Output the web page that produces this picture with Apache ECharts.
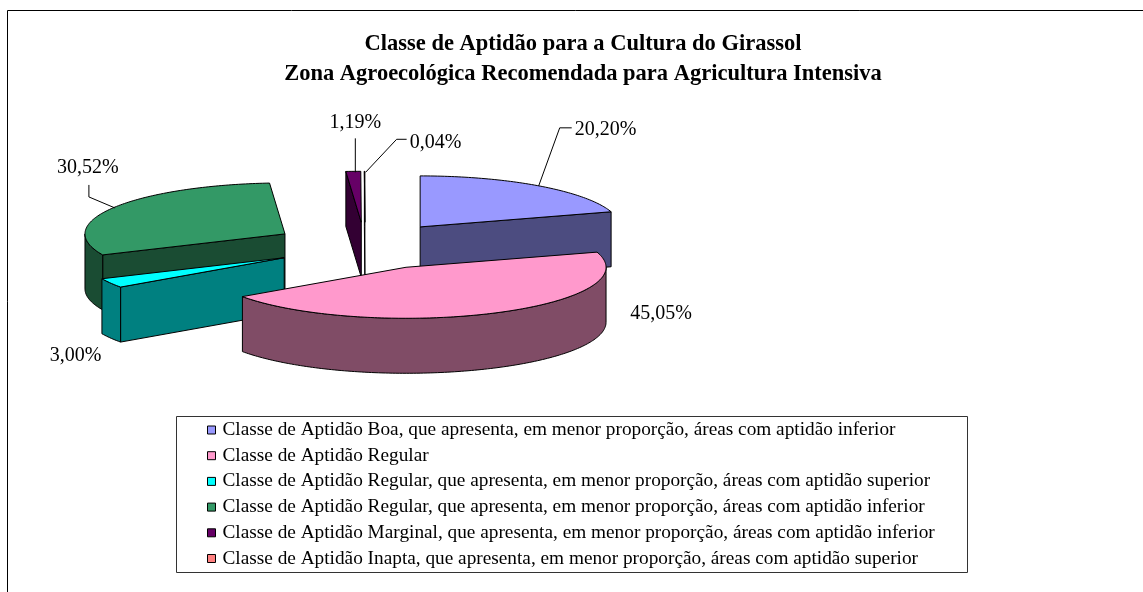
<!DOCTYPE html>
<html>
<head>
<meta charset="utf-8">
<title>Classe de Aptidão - Girassol</title>
<script src="https://cdn.jsdelivr.net/npm/echarts@6/dist/echarts.min.js"></script>
<style>
  html, body { margin: 0; padding: 0; background: #fff; }
  #chart { width: 1143px; height: 592px; }
</style>
</head>
<body>
<div id="chart"></div>
<script>
// dados
var categories = [
    'Classe de Aptidão Boa, que apresenta, em menor proporção, áreas com aptidão inferior',
    'Classe de Aptidão Regular',
    'Classe de Aptidão Regular, que apresenta, em menor proporção, áreas com aptidão superior',
    'Classe de Aptidão Regular, que apresenta, em menor proporção, áreas com aptidão inferior',
    'Classe de Aptidão Marginal, que apresenta, em menor proporção, áreas com aptidão inferior',
    'Classe de Aptidão Inapta, que apresenta, em menor proporção, áreas com aptidão superior'
];
var percentages = [20.20, 45.05, 3.00, 30.52, 1.19, 0.04];
var topColors = ['#9999FF', '#FF99CC', '#00FFFF', '#339966', '#660066', '#FF8080'];
var sideColors = ['#4C4C80', '#804C66', '#008080', '#1A4C33', '#330033', '#804040'];

// posição dos rótulos em relação ao ponto médio do arco de cada fatia
var labelLayout = [
    { leader: [[0, 0], [21, -58], [33, -58]], text: [36, -56], align: 'left' },
    { leader: null, text: [136, 1], align: 'left' },
    { leader: null, text: [-35, 73], align: 'center' },
    { leader: [[2, 0], [-24, -11], [-24, -23]], text: [-25, -40], align: 'center' },
    { leader: [[2, 1], [2, -33]], text: [2, -49], align: 'center' },
    { leader: [[1, 1], [32, -32], [42, -32]], text: [45, -29], align: 'left' }
];

// geometria da pizza 3D
var CX = 365, CY = 246, RX = 200, RY = 51, DEPTH = 55, EXPLODE = 93;

var total = percentages.reduce(function (a, b) { return a + b; }, 0);

function fmtPct(v) {
    return v.toFixed(2).replace('.', ',') + '%';
}

function sliceInfo(i) {
    var start = 0;
    for (var j = 0; j < i; j++) start += percentages[j];
    var a0 = start / total * Math.PI * 2;
    var a1 = (start + percentages[i]) / total * Math.PI * 2;
    var mid = (a0 + a1) / 2;
    var ox = CX + EXPLODE * Math.sin(mid);
    var oy = CY - EXPLODE * (RY / RX) * Math.cos(mid);
    return { a0: a0, a1: a1, mid: mid, ox: ox, oy: oy };
}

// ordem de desenho: do fundo para a frente
var infos = percentages.map(function (v, i) { return sliceInfo(i); });
var order = infos.map(function (s, i) { return i; }).sort(function (a, b) { return infos[a].oy - infos[b].oy; });
var rank = [];
order.forEach(function (idx, r) { rank[idx] = r; });

function pt(s, a, dy) {
    return [s.ox + RX * Math.sin(a), s.oy - RY * Math.cos(a) + (dy || 0)];
}

function arc(s, from, to, dy) {
    var pts = [];
    var n = Math.max(1, Math.ceil((to - from) / (Math.PI / 180)));
    for (var k = 0; k <= n; k++) pts.push(pt(s, from + (to - from) * k / n, dy));
    return pts;
}

function face(points, fill, z2) {
    return {
        type: 'polygon',
        shape: { points: points },
        style: { fill: fill, stroke: '#000', lineWidth: 1, lineJoin: 'round' },
        z2: z2,
        silent: true
    };
}

function makeRender(i) {
    return function (params, api) {
        var s = infos[i];
        var base = rank[i] * 10;
        var apex = [s.ox, s.oy], apexB = [s.ox, s.oy + DEPTH];
        var children = [];

        // parede radial inicial
        if (Math.sin(s.a0) < -1e-6) {
            children.push(face([apex, pt(s, s.a0), pt(s, s.a0, DEPTH), apexB], sideColors[i], base + 1));
        }
        // parede radial final
        if (Math.sin(s.a1) > 1e-6) {
            children.push(face([apex, pt(s, s.a1), pt(s, s.a1, DEPTH), apexB], sideColors[i], base + 1));
        }
        // parede externa visível
        var f = Math.max(s.a0, Math.PI / 2), t = Math.min(s.a1, Math.PI * 1.5);
        if (t > f) {
            var topArc = arc(s, f, t, 0);
            var botArc = arc(s, f, t, DEPTH).reverse();
            children.push(face(topArc.concat(botArc), sideColors[i], base + 2));
        }
        // tampa
        children.push(face([apex].concat(arc(s, s.a0, s.a1, 0)), topColors[i], base + 5));

        // rótulo
        var m = pt(s, s.mid);
        var lay = labelLayout[i];
        if (lay.leader) {
            children.push({
                type: 'polyline',
                shape: { points: lay.leader.map(function (p) { return [m[0] + p[0], m[1] + p[1]]; }) },
                style: { stroke: '#000', lineWidth: 1, fill: null },
                z2: 100,
                silent: true
            });
        }
        children.push({
            type: 'text',
            x: m[0] + lay.text[0],
            y: m[1] + lay.text[1],
            style: {
                text: fmtPct(percentages[i]),
                fill: '#000',
                font: '20px "Liberation Serif"',
                align: lay.align,
                verticalAlign: 'middle'
            },
            z2: 101,
            silent: true
        });
        return { type: 'group', children: children };
    };
}

var series = categories.map(function (name, i) {
    return {
        name: name,
        type: 'custom',
        coordinateSystem: 'none',
        itemStyle: { color: topColors[i] },
        data: [[i, percentages[i]]],
        renderItem: makeRender(i)
    };
});

var myChart = echarts.init(document.getElementById('chart'));

var option = {
    backgroundColor: '#fff',
    animation: false,
    title: {
        text: 'Classe de Aptidão para a Cultura do Girassol\nZona Agroecológica Recomendada para Agricultura Intensiva',
        left: 583,
        top: 29,
        padding: 0,
        textAlign: 'center',
        textStyle: {
            fontFamily: 'Liberation Serif',
            fontWeight: 'bold',
            fontSize: 22.5,
            lineHeight: 30,
            color: '#000'
        }
    },
    legend: {
        orient: 'vertical',
        left: 207,
        top: 420.5,
        padding: 0,
        itemGap: 6.7,
        itemWidth: 8,
        itemHeight: 8,
        icon: 'rect',
        itemStyle: { borderColor: '#000', borderWidth: 1 },
        selectedMode: false,
        textStyle: {
            fontFamily: 'Liberation Serif',
            fontSize: 19.3,
            lineHeight: 19,
            color: '#000',
            padding: [0, 0, 0, 2]
        },
        data: categories
    },
    graphic: [
        {
            type: 'rect',
            shape: { x: 7.5, y: 10.5, width: 1200, height: 700 },
            style: { fill: null, stroke: '#000', lineWidth: 1 },
            silent: true
        },
        {
            type: 'rect',
            shape: { x: 176.5, y: 416.5, width: 791, height: 156 },
            style: { fill: null, stroke: '#333', lineWidth: 1 },
            silent: true
        }
    ],
    series: series
};

myChart.setOption(option);
</script>
</body>
</html>
